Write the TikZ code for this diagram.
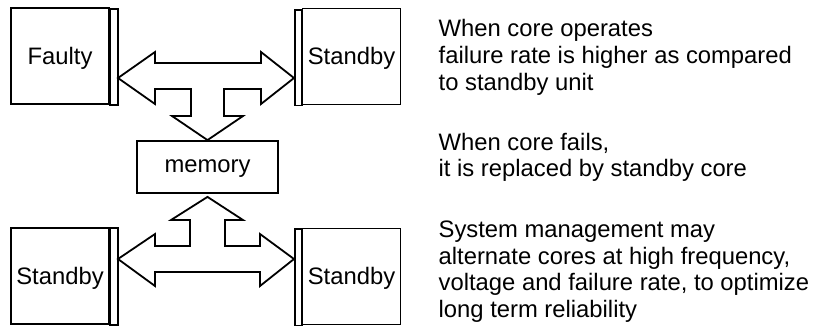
\documentclass[tikz,border=0pt]{standalone}
\usepackage{fontspec}
\setmainfont{Liberation Sans}
\usetikzlibrary{calc}
\begin{document}
\begin{tikzpicture}[x=1pt,y=-1pt,line join=miter,
  every node/.style={font=\fontsize{23.8}{26.7}\selectfont},
  core/.style={draw,line width=1.8pt,minimum width=98pt,minimum height=96pt,inner sep=0pt,
    text height=16.8pt,text depth=0pt},
  strip/.style={draw,line width=1.8pt},
  membox/.style={draw,line width=1.8pt,minimum width=141pt,minimum height=52pt,inner sep=0pt,
    text height=10.6pt,text depth=0pt},
  blockarrow/.style={draw,line width=1.8pt,fill=white},
  note/.style={anchor=north west,align=left,inner sep=0pt}]
\useasboundingbox (0,0) rectangle (816,330);

% cores with their side strip
\node[core] (faulty) at (60,56) {Faulty};
\draw[strip] ($(faulty.north east)+(0,2)$) rectangle ($(faulty.south east)+(8,0)$);
\node[core] (stbyA) at (351.5,56.5) {Standby};
\draw[strip] ($(stbyA.north west)+(0,2)$) rectangle ($(stbyA.south west)+(-7,0)$);

\node[core] (stbyB) at (60,276) {Standby};
\draw[strip] ($(stbyB.north east)+(0,1)$) rectangle ($(stbyB.south east)+(8,0)$);
\node[core] (stbyC) at (351.5,276.5) {Standby};
\draw[strip] ($(stbyC.north west)+(0,1)$) rectangle ($(stbyC.south west)+(-7,0)$);

% shared memory
\node[membox] (memory) at (207.5,167) {memory};

% upper bus: faulty <-> standby, down to memory
\draw[blockarrow] (118,78) -- (155,52) -- (155,63) -- (261,63) -- (261,52) -- (294,78)
  -- (261,104) -- (261,89) -- (224,89) -- (224,116) -- (243,116) -- (memory.north)
  -- (172,116) -- (191,116) -- (191,89) -- (155,89) -- (155,104) -- cycle;

% lower bus: standby <-> standby, up to memory
\draw[blockarrow] (118,259) -- (155,234) -- (155,246) -- (190,246) -- (190,220) -- (171,220)
  -- ($(memory.south)+(0,3)$) -- (243,220) -- (225,220) -- (225,246) -- (260,246) -- (260,234)
  -- (294,259) -- (260,286) -- (260,272) -- (155,272) -- (155,286) -- cycle;

% explanatory notes
\node[note] (n1) at (438.5,19.4) {When core operates\\failure rate is higher as compared\\to standby unit};
\node[note] (n2) at (438.5,132.7) {When core fails,\\it is replaced by standby core};
\node[note] (n3) at (438.5,220.7) {System management may\\alternate cores at high frequency,\\voltage and failure rate, to optimize\\long term reliability};
\end{tikzpicture}
\end{document}
